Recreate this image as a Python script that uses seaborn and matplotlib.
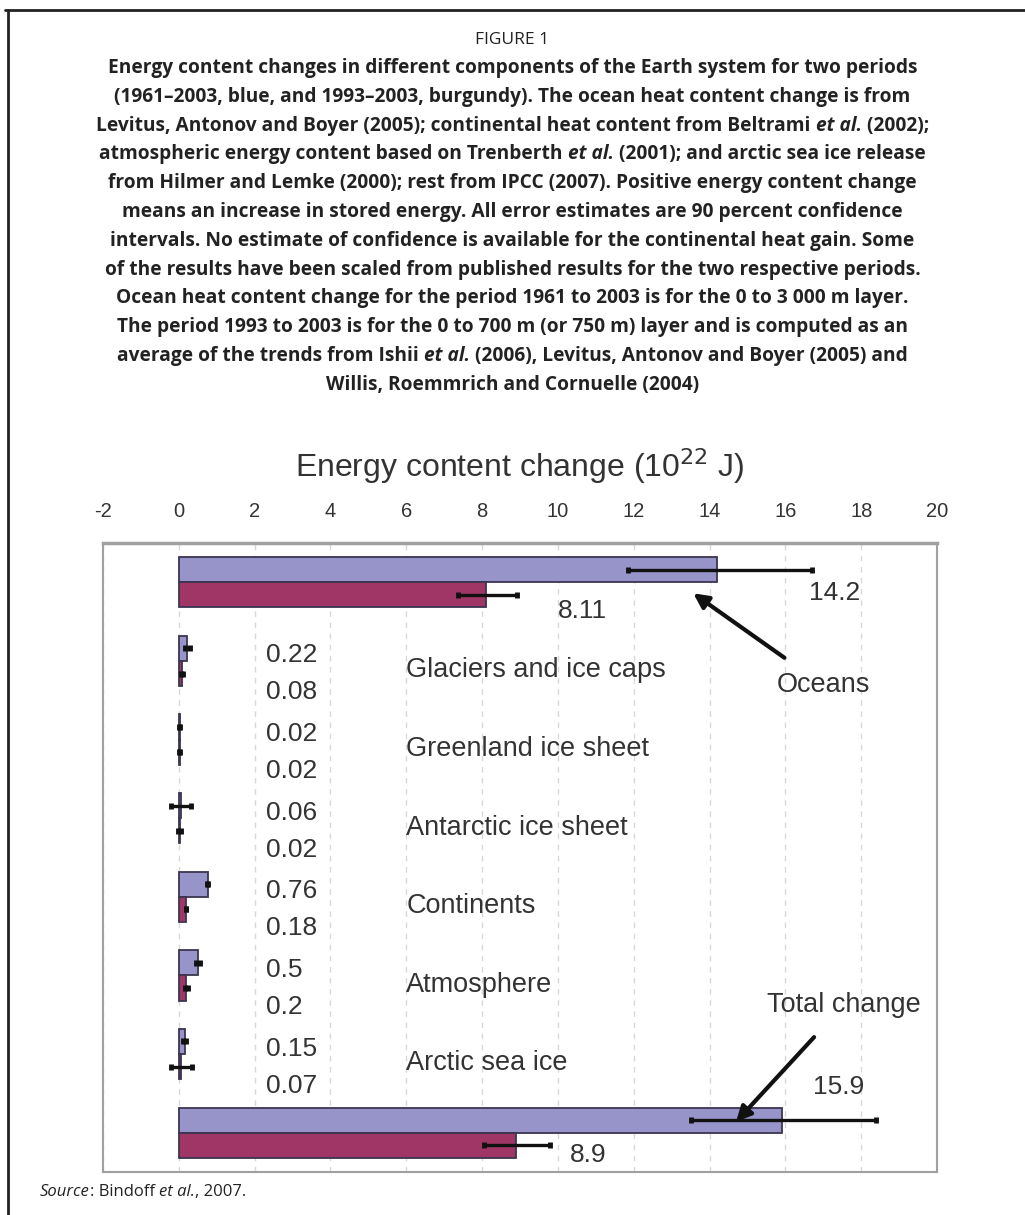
import numpy as np
import pandas as pd
import matplotlib
matplotlib.use('Agg')
import matplotlib.pyplot as plt
from matplotlib.lines import Line2D
import seaborn as sns

# values (10^22 J)
components = ['Oceans', 'Glaciers and ice caps', 'Greenland ice sheet', 'Antarctic ice sheet',
              'Continents', 'Atmosphere', 'Arctic sea ice', 'Total change']
blue_vals = [14.2, 0.22, 0.02, 0.06, 0.76, 0.5, 0.15, 15.9]      # 1961-2003
red_vals = [8.11, 0.08, 0.02, 0.02, 0.18, 0.2, 0.07, 8.9]        # 1993-2003
blue_err_lo = [2.35, 0.07, 0.01, 0.27, 0.02, 0.05, 0.05, 2.4]
blue_err_hi = [2.5, 0.07, 0.01, 0.27, 0.02, 0.05, 0.05, 2.5]
red_err_lo = [0.75, 0.03, 0.01, 0.03, 0.0, 0.04, 0.27, 0.85]
red_err_hi = [0.8, 0.03, 0.01, 0.03, 0.0, 0.04, 0.27, 0.9]
blue_labels = ['14.2', '0.22', '0.02', '0.06', '0.76', '0.5', '0.15', '15.9']
red_labels = ['8.11', '0.08', '0.02', '0.02', '0.18', '0.2', '0.07', '8.9']
xticks = [-2, 0, 2, 4, 6, 8, 10, 12, 14, 16, 18, 20]

caption = [
    [("Energy content changes in different components of the Earth system for two periods", 'normal')],
    [("(1961\u20132003, blue, and 1993\u20132003, burgundy). The ocean heat content change is from", 'normal')],
    [("Levitus, Antonov and Boyer (2005); continental heat content from Beltrami ", 'normal'),
     ("et al.", 'italic'), (" (2002);", 'normal')],
    [("atmospheric energy content based on Trenberth ", 'normal'), ("et al.", 'italic'),
     (" (2001); and arctic sea ice release", 'normal')],
    [("from Hilmer and Lemke (2000); rest from IPCC (2007). Positive energy content change", 'normal')],
    [("means an increase in stored energy. All error estimates are 90 percent confidence", 'normal')],
    [("intervals. No estimate of confidence is available for the continental heat gain. Some", 'normal')],
    [("of the results have been scaled from published results for the two respective periods.", 'normal')],
    [("Ocean heat content change for the period 1961 to 2003 is for the 0 to 3 000 m layer.", 'normal')],
    [("The period 1993 to 2003 is for the 0 to 700 m (or 750 m) layer and is computed as an", 'normal')],
    [("average of the trends from Ishii ", 'normal'), ("et al.", 'italic'),
     (" (2006), Levitus, Antonov and Boyer (2005) and", 'normal')],
    [("Willis, Roemmrich and Cornuelle (2004)", 'normal')],
]

df = pd.DataFrame({
    'component': components * 2,
    'value': blue_vals + red_vals,
    'period': ['1961-2003'] * len(components) + ['1993-2003'] * len(components),
})

sns.set_theme(style='white')
plt.rcParams['font.family'] = ['Liberation Sans', 'DejaVu Sans']
plt.rcParams['axes.unicode_minus'] = False

BLUE = '#9694c9'
RED = '#a03666'
TXT = '#333333'

fig = plt.figure(figsize=(10.25, 12.15), dpi=100)
ax = fig.add_axes([0.1005, 0.0354, 0.8137, 0.5177])

sns.barplot(data=df, x='value', y='component', hue='period', orient='h',
            palette=[BLUE, RED], saturation=1, width=0.64, errorbar=None, legend=False,
            edgecolor='#3c3450', linewidth=1.3, ax=ax)

# error bars placed at the bar centres
for cont, lo, hi in [(ax.containers[0], blue_err_lo, blue_err_hi),
                     (ax.containers[1], red_err_lo, red_err_hi)]:
    ys = [b.get_y() + b.get_height() / 2 for b in cont]
    xs = [b.get_width() for b in cont]
    ax.errorbar(xs, ys, xerr=[lo, hi], fmt='none', ecolor='#111111',
                elinewidth=2.4, capsize=2.5, capthick=3.5, zorder=5)

ax.set_xlim(-2, 20)
ax.set_ylim(7.5, -0.5)
ax.set_xticks(xticks)
ax.xaxis.tick_top()
ax.tick_params(axis='x', length=0, pad=16, labelsize=14.5, labelcolor=TXT)
ax.set_yticks([])
ax.set_ylabel('')
ax.xaxis.set_label_position('top')
ax.set_xlabel('Energy content change (10$^{22}$ J)', fontsize=23, color=TXT, labelpad=18)
ax.grid(axis='x', linestyle=(0, (4, 4)), color='#d8d8d8', linewidth=1)
ax.set_axisbelow(True)
for s in ax.spines.values():
    s.set_color('#a0a0a0')
    s.set_linewidth(1.5)
ax.spines['top'].set_linewidth(2.5)

# value labels
ax.text(17.3, 0.14, blue_labels[0], fontsize=19, color=TXT, ha='center', va='center')
ax.text(10.65, 0.36, red_labels[0], fontsize=19, color=TXT, ha='center', va='center')
ax.text(17.4, 6.42, blue_labels[7], fontsize=19, color=TXT, ha='center', va='center')
ax.text(10.8, 7.28, red_labels[7], fontsize=19, color=TXT, ha='center', va='center')
for i in range(1, 7):
    ax.text(2.3, i - 0.07, blue_labels[i], fontsize=19, color=TXT, ha='left', va='center')
    ax.text(2.3, i + 0.4, red_labels[i], fontsize=19, color=TXT, ha='left', va='center')
    ax.text(6.0, i + 0.12, components[i], fontsize=19.5, color=TXT, ha='left', va='center')

# arrows
ax.annotate('Oceans', xy=(13.57, 0.14), xytext=(17.0, 1.31), fontsize=19.5, color=TXT,
            ha='center', va='center',
            arrowprops=dict(arrowstyle='-|>', color='#111111', lw=3, mutation_scale=22,
                            shrinkA=14, shrinkB=0))
ax.annotate('Total change', xy=(14.7, 6.86), xytext=(17.55, 5.37), fontsize=19.5, color=TXT,
            ha='center', va='center',
            arrowprops=dict(arrowstyle='-|>', color='#111111', lw=3, mutation_scale=22,
                            shrinkA=16, shrinkB=0))

# outer frame (top and left only)
fig.add_artist(Line2D([5 / 1025, 1], [1 - 10 / 1215] * 2, color='#222222', lw=2))
fig.add_artist(Line2D([8 / 1025] * 2, [0, 1 - 10 / 1215], color='#222222', lw=2))

cap_font = ['Open Sans', 'DejaVu Sans']
fig.text(0.5, 1 - 40 / 1215, 'FIGURE 1', ha='center', va='center', fontsize=12.5,
         family=cap_font, color='#222222')

renderer = fig.canvas.get_renderer()


def rich_line(y_px, parts, x_px=None, **kw):
    texts = [fig.text(0, 1 - y_px / 1215, s, style=st, va='center', ha='left', **kw)
             for s, st in parts]
    widths = [t.get_window_extent(renderer).width for t in texts]
    start = x_px if x_px is not None else (1025 - sum(widths)) / 2
    for t, w in zip(texts, widths):
        t.set_x(start / 1025)
        start += w


for k, parts in enumerate(caption):
    rich_line(68 + k * 28.8, parts, fontsize=13.8, weight='bold', family=cap_font, color='#222222')

rich_line(1192, [('Source', 'italic'), (': Bindoff ', 'normal'), ('et al.', 'italic'),
                 (', 2007.', 'normal')], x_px=40, fontsize=12, family=cap_font, color='#222222')

fig.savefig('out.png', dpi=100)
